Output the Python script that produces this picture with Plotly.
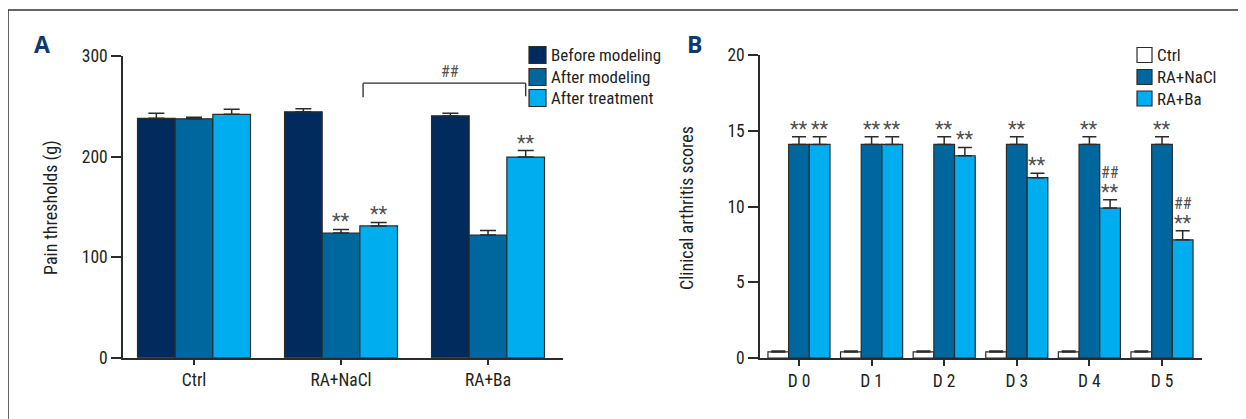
import plotly.graph_objects as go

# ---------------- data ----------------
a_categories = ["Ctrl", "RA+NaCl", "RA+Ba"]
a_series = ["Before modeling", "After modeling", "After treatment"]
a_before = [238, 244.5, 240.5]
a_before_err = [5, 3, 2.5]
a_after_model = [237.5, 124, 122]
a_after_model_err = [1.5, 3.5, 4.5]
a_after_treat = [242, 131, 199.5]
a_after_treat_err = [5, 3.5, 6.5]

b_categories = ["D 0", "D 1", "D 2", "D 3", "D 4", "D 5"]
b_series = ["Ctrl", "RA+NaCl", "RA+Ba"]
b_ctrl = [0.4, 0.4, 0.4, 0.4, 0.4, 0.4]
b_ctrl_err = [0.07, 0.07, 0.07, 0.07, 0.07, 0.07]
b_nacl = [14.1, 14.1, 14.1, 14.1, 14.1, 14.1]
b_nacl_err = [0.5, 0.5, 0.5, 0.5, 0.5, 0.5]
b_ba = [14.1, 14.1, 13.35, 11.9, 9.9, 7.8]
b_ba_err = [0.5, 0.5, 0.55, 0.3, 0.55, 0.6]

# significance labels
a_marks = {(1, 1): "**", (1, 2): "**", (2, 2): "**"}
b_marks_nacl = ["**", "**", "**", "**", "**", "**"]
b_marks_ba = ["**", "**", "**", "**", "**", "**"]
b_hash_ba = ["", "", "", "", "##", "##"]

# ---------------- style ----------------
W, H = 1246, 419
OFF = 8  # page body margin
FONT = "Roboto Condensed, DejaVu Sans Condensed, sans-serif"
TXT = "#231f20"
EDGE = "#2b2b2b"
C_NAVY = "#002b5c"
C_MID = "#00679e"
C_LIGHT = "#00adee"


def px_x(p):
    return (p - OFF) / W


def px_y(p):
    return 1 - (p - OFF) / H


fig = go.Figure()

# ---- Panel A ----
wa = 0.2562
a_vals = [a_before, a_after_model, a_after_treat]
a_errs = [a_before_err, a_after_model_err, a_after_treat_err]
a_cols = [C_NAVY, C_MID, C_LIGHT]
a_x = list(range(len(a_categories)))
for k in range(3):
    fig.add_trace(go.Bar(
        x=a_x, y=a_vals[k], name=a_series[k], width=wa, offset=-1.5 * wa + k * wa,
        marker=dict(color=a_cols[k], line=dict(color=EDGE, width=1.2)),
        error_y=dict(type="data", symmetric=False, array=a_errs[k],
                     arrayminus=[0] * len(a_x), color=EDGE, thickness=1.5, width=8),
        xaxis="x", yaxis="y", showlegend=False,
    ))

# ---- Panel B ----
wb = 0.285
b_vals = [b_ctrl, b_nacl, b_ba]
b_errs = [b_ctrl_err, b_nacl_err, b_ba_err]
b_cols = ["#ffffff", C_MID, C_LIGHT]
b_x = list(range(len(b_categories)))
for k in range(3):
    fig.add_trace(go.Bar(
        x=b_x, y=b_vals[k], name=b_series[k], width=wb, offset=-1.5 * wb + k * wb,
        marker=dict(color=b_cols[k], line=dict(color=EDGE, width=1.2)),
        error_y=dict(type="data", symmetric=False, array=b_errs[k],
                     arrayminus=[0] * len(b_x), color=EDGE, thickness=1.5, width=7),
        xaxis="x2", yaxis="y2", showlegend=False,
    ))

axis_common = dict(showgrid=False, zeroline=False, showline=True, linecolor=EDGE,
                   linewidth=1.5, ticks="outside", tickcolor=EDGE, tickwidth=1.5,
                   automargin=False, tickfont=dict(family=FONT, size=17.5, color=TXT))

fig.update_layout(
    template="none",
    width=W, height=H, margin=dict(l=0, r=0, t=0, b=0, pad=0, autoexpand=False),
    paper_bgcolor="white", plot_bgcolor="white",
    barmode="overlay",
    xaxis=dict(domain=[px_x(123), px_x(563)], range=[-0.483, 2.51], anchor="y",
               tickvals=a_x, ticktext=a_categories, ticklen=6, **axis_common),
    yaxis=dict(domain=[px_y(357.7), px_y(56)], range=[0, 300], anchor="x",
               tickvals=[0, 100, 200, 300], ticklen=10, **axis_common),
    xaxis2=dict(domain=[px_x(760), px_x(1202)], range=[-0.537, 5.551], anchor="y2",
                tickvals=b_x, ticktext=b_categories, ticklen=6, **axis_common),
    yaxis2=dict(domain=[px_y(358), px_y(55)], range=[0, 20], anchor="x2",
                tickvals=[0, 5, 10, 15, 20], ticklen=10, **axis_common),
)

annotations = []
shapes = []
STAR_FONT = dict(family=FONT, size=20, color="#505050")
HASH_FONT = dict(family=FONT, size=16, color="#505050")

# significance marks A
for (ci, si), t in a_marks.items():
    xpos = ci - 1.5 * wa + (si + 0.5) * wa
    top = a_vals[si][ci] + a_errs[si][ci]
    annotations.append(dict(x=xpos, y=top, xref="x", yref="y", text=t, showarrow=False,
                            xanchor="center", yanchor="bottom", yshift=-6, font=STAR_FONT))

# bracket A (between RA+NaCl and RA+Ba after treatment)
xl = 1 + 0.15
xr = 2 - 1.5 * wa + 2.5 * wa
for x0, x1, y0, y1 in ((xl, xr, 273, 273), (xl, xl, 273, 259), (xr, xr, 273, 260)):
    shapes.append(dict(type="line", xref="x", yref="y", x0=x0, x1=x1, y0=y0, y1=y1,
                       line=dict(color=EDGE, width=1.3)))
annotations.append(dict(x=1.74, y=273, xref="x", yref="y", text="##", showarrow=False,
                        xanchor="center", yanchor="bottom", yshift=0, font=HASH_FONT))

# significance marks B
for i in b_x:
    for si, marks in ((1, b_marks_nacl), (2, b_marks_ba)):
        xpos = i - 1.5 * wb + (si + 0.5) * wb
        top = b_vals[si][i] + b_errs[si][i]
        annotations.append(dict(x=xpos, y=top, xref="x2", yref="y2", text=marks[i],
                                showarrow=False, xanchor="center", yanchor="bottom",
                                yshift=-6, font=STAR_FONT))
    if b_hash_ba[i]:
        xpos = i - 1.5 * wb + 2.5 * wb
        top = b_vals[2][i] + b_errs[2][i]
        annotations.append(dict(x=xpos, y=top, xref="x2", yref="y2", text=b_hash_ba[i],
                                showarrow=False, xanchor="center", yanchor="middle",
                                yshift=27, font=HASH_FONT))

# axis titles
annotations.append(dict(x=px_x(51), y=px_y(208), xref="paper", yref="paper",
                        text="Pain thresholds (g)", textangle=-90, showarrow=False,
                        xanchor="center", yanchor="middle",
                        font=dict(family=FONT, size=18, color=TXT)))
annotations.append(dict(x=px_x(687), y=px_y(208), xref="paper", yref="paper",
                        text="Clinical arthritis scores", textangle=-90, showarrow=False,
                        xanchor="center", yanchor="middle",
                        font=dict(family=FONT, size=18, color=TXT)))

# panel letters
LETTER_FONT = dict(family="Open Sans, Liberation Sans, Arial", size=23, color="#0b3a6e")
annotations.append(dict(x=px_x(42), y=px_y(44), xref="paper", yref="paper", text="<b>A</b>",
                        showarrow=False, xanchor="center", yanchor="middle", font=LETTER_FONT))
annotations.append(dict(x=px_x(694), y=px_y(44.5), xref="paper", yref="paper", text="<b>B</b>",
                        showarrow=False, xanchor="center", yanchor="middle", font=LETTER_FONT))


# legends (drawn boxes + labels)
def legend(names, cols, x_box, box, rows_y, x_text):
    for n, c, yc in zip(names, cols, rows_y):
        shapes.append(dict(type="rect", xref="paper", yref="paper",
                           x0=px_x(x_box), x1=px_x(x_box + box),
                           y0=px_y(yc + box / 2), y1=px_y(yc - box / 2),
                           fillcolor=c, line=dict(color=EDGE, width=1.2)))
        annotations.append(dict(x=px_x(x_text), y=px_y(yc), xref="paper", yref="paper",
                                text=n, showarrow=False, xanchor="left", yanchor="middle",
                                font=dict(family=FONT, size=17, color=TXT)))


legend(a_series, a_cols, 529, 17, [55, 77, 98], 549)
legend(b_series, b_cols, 1137, 15, [55, 77, 98.5], 1155)

# outer frame (top and left edges)
shapes.append(dict(type="line", xref="paper", yref="paper", x0=px_x(8), x1=1.0,
                   y0=px_y(10), y1=px_y(10), line=dict(color="#333", width=1.5)))
shapes.append(dict(type="line", xref="paper", yref="paper", x0=px_x(8), x1=px_x(8),
                   y0=px_y(10), y1=0.0, line=dict(color="#333", width=1.5)))

fig.update_layout(annotations=annotations, shapes=shapes)
fig.write_html("out.html")
